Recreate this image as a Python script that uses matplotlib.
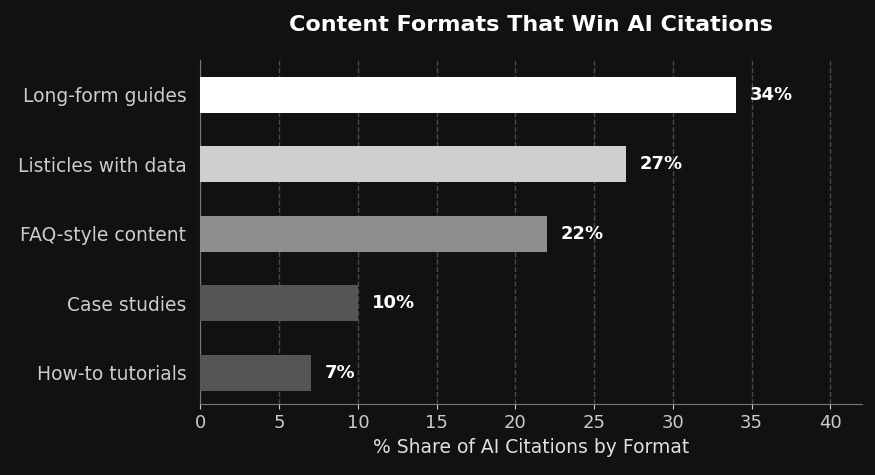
import matplotlib.pyplot as plt

# data
formats = ["Long-form guides", "Listicles with data", "FAQ-style content", "Case studies", "How-to tutorials"]
shares = [34, 27, 22, 10, 7]
bar_colors = ["#ffffff", "#cfcfcf", "#8e8e8e", "#555555", "#555555"]

bg = "#111111"
fig = plt.figure(figsize=(8.75, 4.75), dpi=100, facecolor=bg)
ax = fig.add_axes([0.229, 0.149, 0.756, 0.725], facecolor=bg)

ypos = list(range(len(formats)))[::-1]
ax.barh(ypos, shares, height=0.52, color=bar_colors, zorder=3)
for y, v in zip(ypos, shares):
    ax.text(v + 0.9, y, f"{v}%", va="center", ha="left", color="white",
            fontsize=13, fontweight="bold")

ax.set_yticks(ypos)
ax.set_yticklabels(formats)
ax.set_xlim(0, 42)
ax.set_ylim(-0.45, 4.5)
ax.set_xticks(range(0, 45, 5))
ax.tick_params(colors="#cccccc", labelsize=13)
ax.tick_params(axis="y", length=0, pad=10, labelsize=13.5)
ax.grid(axis="x", linestyle="--", color="#4a4a4a", linewidth=1, zorder=0)
for s in ["top", "right"]:
    ax.spines[s].set_visible(False)
for s in ["left", "bottom"]:
    ax.spines[s].set_color("#777777")

ax.set_xlabel("% Share of AI Citations by Format", color="#e0e0e0", fontsize=13.5)
fig.text(0.607, 0.947, "Content Formats That Win AI Citations", color="white",
         fontsize=16, fontweight="bold", ha="center", va="center")

fig.savefig("out.png", facecolor=bg)
